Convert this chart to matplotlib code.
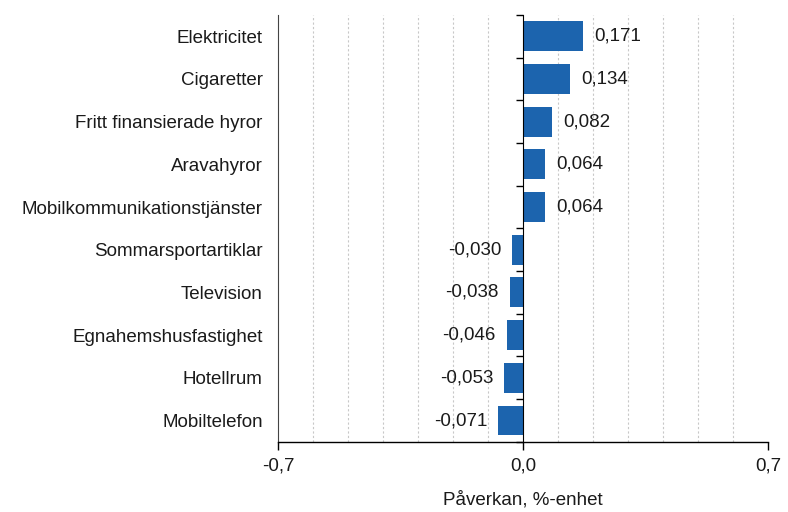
import numpy as np
import matplotlib
matplotlib.use('Agg')
import matplotlib.pyplot as plt
from matplotlib.ticker import FuncFormatter

plt.rcParams['font.family'] = ['Liberation Sans', 'DejaVu Sans']
plt.rcParams['text.color'] = '#1a1a1a'
plt.rcParams['xtick.labelcolor'] = '#1a1a1a'
plt.rcParams['ytick.labelcolor'] = '#1a1a1a'
plt.rcParams['axes.labelcolor'] = '#1a1a1a'

#%% data
categories = ['Elektricitet', 'Cigaretter', 'Fritt finansierade hyror', 'Aravahyror',
              'Mobilkommunikationstjänster', 'Sommarsportartiklar', 'Television',
              'Egnahemshusfastighet', 'Hotellrum', 'Mobiltelefon']
values = [0.171, 0.134, 0.082, 0.064, 0.064, -0.030, -0.038, -0.046, -0.053, -0.071]
value_labels = ['0,171', '0,134', '0,082', '0,064', '0,064',
                '-0,030', '-0,038', '-0,046', '-0,053', '-0,071']
xlabel = 'Påverkan, %-enhet'

bar_col = '#1c64ae'
fs = 13.5

fig = plt.figure(figsize=(7.88, 5.12), dpi=100)
ax = fig.add_axes([0.3528, 0.137, 0.6218, 0.834])

n = len(categories)
ypos = np.arange(n)
ax.barh(ypos, values, height=0.7, color=bar_col, zorder=3)
ax.set_ylim(n - 0.5, -0.5)
ax.set_xlim(-0.7, 0.7)

# gridlines every 0.1
ax.set_xticks(np.round(np.arange(-0.7, 0.71, 0.1), 1), minor=True)
ax.grid(axis='x', which='minor', color='#c8c8c8', linestyle=(0, (2, 2)), linewidth=0.8, zorder=0)
ax.tick_params(axis='x', which='minor', length=0)
ax.set_xticks([-0.7, 0.0, 0.7])
ax.xaxis.set_major_formatter(FuncFormatter(lambda v, p: ('%.1f' % v).replace('.', ',')))
ax.tick_params(axis='x', which='major', length=6, width=1, color='black', labelsize=fs, pad=5)

ax.set_yticks(ypos)
ax.set_yticklabels(categories, fontsize=fs)
ax.tick_params(axis='y', length=0, pad=11)

for s in ['top', 'right']:
    ax.spines[s].set_visible(False)
ax.spines['left'].set_color('#444444')
ax.spines['bottom'].set_color('black')
ax.spines['bottom'].set_linewidth(1)

# zero line with category tick marks
ax2 = ax.twinx()
ax2.set_ylim(ax.get_ylim())
ax2.yaxis.set_ticks_position('left')
ax2.spines['left'].set_position(('data', 0))
ax2.spines['left'].set_color('black')
for s in ['top', 'right', 'bottom']:
    ax2.spines[s].set_visible(False)
ax2.set_yticks(np.arange(-0.5, n, 1.0))
ax2.set_yticklabels([])
ax2.tick_params(axis='y', length=5, width=1, color='black', direction='out')

for y, v, lab in zip(ypos, values, value_labels):
    if v >= 0:
        ax.annotate(lab, (v, y), xytext=(8, 0), textcoords='offset points',
                    ha='left', va='center', fontsize=fs, zorder=4)
    else:
        ax.annotate(lab, (v, y), xytext=(-8, 0), textcoords='offset points',
                    ha='right', va='center', fontsize=fs, zorder=4)

ax.set_xlabel(xlabel, fontsize=fs, labelpad=12)

fig.savefig('out.png', dpi=100)
